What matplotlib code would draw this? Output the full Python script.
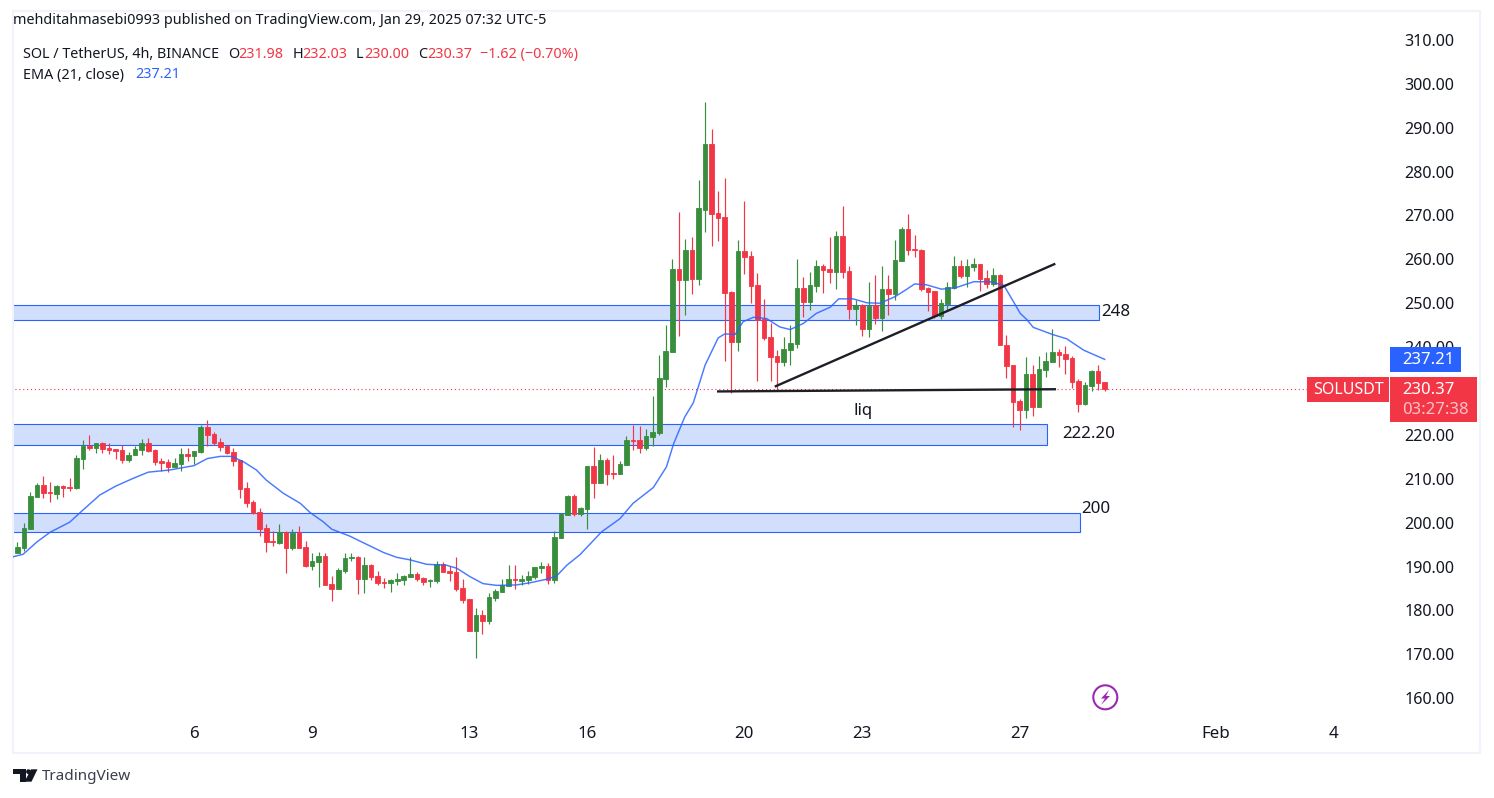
import matplotlib
matplotlib.use('Agg')
import numpy as np
import matplotlib.pyplot as plt
from matplotlib.patches import Rectangle, Circle, Polygon
from matplotlib.transforms import Affine2D

# OHLC of the 4h candles
opens = [193.1, 194.3, 198.6, 205.9, 208.6, 207.0, 206.6, 208.3, 208.1, 207.9, 214.6, 217.4, 217.1, 218.1, 217.0, 216.8, 216.5, 214.3, 215.5, 216.6,
         218.1, 216.5, 214.0, 213.8, 212.7, 213.4, 215.6, 215.2, 216.1, 221.8, 220.2, 218.4, 217.4, 216.1, 214.3, 207.9, 204.7, 202.4, 198.8, 195.8,
         195.4, 197.9, 194.3, 197.8, 194.4, 190.1, 191.0, 192.4, 186.0, 184.8, 189.0, 191.9, 192.1, 187.1, 190.3, 187.8, 186.4, 186.2, 186.7, 186.9,
         187.6, 188.3, 187.4, 186.8, 186.7, 190.5, 188.9, 188.7, 185.1, 182.6, 175.3, 178.9, 177.6, 182.8, 184.2, 185.5, 187.1, 186.7, 186.9, 187.6,
         189.6, 190.1, 186.9, 196.5, 201.7, 206.0, 201.9, 203.1, 212.9, 209.0, 214.2, 211.3, 211.0, 213.1, 218.8, 218.8, 217.0, 219.5, 220.4, 232.7,
         238.9, 257.8, 255.3, 262.1, 255.5, 271.2, 286.3, 270.6, 269.6, 252.5, 241.2, 261.9, 260.8, 254.1, 246.4, 242.3, 237.9, 236.6, 239.3, 240.7,
         253.5, 250.3, 253.9, 258.5, 257.8, 257.1, 265.3, 257.4, 248.7, 249.6, 244.1, 249.6, 246.6, 253.2, 252.1, 259.6, 266.9, 262.4, 262.1, 253.5,
         252.8, 247.1, 249.8, 253.5, 258.5, 256.2, 258.2, 258.9, 255.7, 254.4, 256.4, 240.5, 235.9, 227.7, 225.7, 233.9, 226.3, 234.8, 236.6, 238.9,
         238.4, 237.5, 232.3, 227.0, 231.1, 234.5, 231.98]
highs = [195.6, 199.9, 206.9, 209.0, 210.6, 209.2, 208.6, 208.6, 210.1, 215.4, 218.8, 220.0, 218.1, 218.4, 218.1, 216.8, 217.7, 216.1, 217.5, 219.0,
         219.3, 216.8, 214.7, 214.5, 214.7, 217.0, 217.0, 216.3, 222.2, 223.4, 220.6, 219.3, 217.7, 217.0, 214.3, 209.2, 205.1, 203.3, 199.7, 198.1,
         199.7, 198.1, 198.5, 199.2, 195.8, 193.1, 193.3, 193.1, 187.8, 189.6, 193.1, 193.1, 192.4, 192.1, 190.5, 189.0, 187.4, 187.1, 188.5, 188.0,
         192.1, 188.7, 187.6, 187.1, 191.2, 191.0, 190.1, 192.1, 187.1, 182.6, 180.5, 180.1, 183.9, 184.8, 187.1, 190.3, 190.3, 188.0, 189.0, 189.9,
         191.0, 190.8, 198.1, 202.2, 206.3, 206.5, 203.5, 212.9, 217.2, 215.6, 214.7, 215.4, 214.0, 219.7, 222.2, 222.0, 221.3, 228.8, 238.2, 245.0,
         260.1, 270.8, 264.6, 265.1, 278.1, 295.9, 289.7, 275.6, 278.5, 252.8, 264.4, 273.3, 261.9, 256.9, 251.0, 245.4, 239.3, 242.3, 245.0, 260.1,
         256.0, 257.1, 259.9, 259.0, 265.1, 266.5, 272.2, 258.5, 250.7, 249.8, 254.8, 256.4, 258.5, 256.4, 264.4, 267.4, 270.3, 265.5, 262.4, 253.7,
         252.8, 251.0, 254.8, 260.8, 259.9, 260.1, 260.3, 258.9, 257.6, 258.0, 256.7, 242.8, 235.9, 228.2, 237.7, 235.9, 238.0, 238.9, 244.1, 239.6,
         240.3, 238.0, 232.7, 232.0, 234.8, 235.9, 232.03]
lows = [193.1, 193.6, 198.6, 205.9, 205.7, 204.8, 205.4, 205.9, 207.3, 207.7, 212.3, 216.5, 215.9, 215.9, 215.7, 214.5, 213.6, 213.9, 215.5, 215.5,
        216.2, 213.2, 211.8, 211.6, 212.7, 211.8, 214.0, 213.4, 215.9, 217.5, 217.8, 216.4, 215.6, 213.0, 205.7, 203.6, 201.9, 197.0, 193.4, 194.7,
        195.2, 188.6, 193.8, 194.2, 189.9, 189.2, 185.3, 185.8, 182.1, 184.8, 188.5, 191.2, 183.7, 183.9, 186.9, 185.8, 185.1, 184.2, 185.8, 185.8,
        187.6, 186.7, 185.8, 185.3, 186.2, 188.7, 186.7, 184.4, 181.7, 175.3, 169.1, 174.6, 176.9, 182.1, 184.2, 185.5, 184.8, 185.8, 186.0, 187.1,
        188.5, 186.0, 186.2, 196.5, 201.7, 201.5, 201.5, 198.5, 205.6, 209.0, 208.5, 209.9, 211.0, 213.1, 216.5, 215.8, 216.5, 217.4, 219.9, 230.9,
        238.9, 242.5, 247.3, 252.1, 254.2, 266.2, 263.0, 264.2, 236.8, 229.5, 239.1, 256.6, 250.0, 232.3, 241.6, 232.3, 230.2, 235.7, 235.9, 239.8,
        246.9, 248.5, 252.5, 252.3, 254.6, 253.2, 255.7, 246.4, 245.0, 242.5, 242.3, 245.2, 243.7, 247.3, 250.7, 259.6, 261.0, 260.5, 252.8, 248.2,
        246.6, 246.4, 248.5, 253.2, 255.7, 253.7, 257.3, 252.8, 253.5, 253.9, 240.5, 233.0, 221.8, 221.1, 223.8, 224.3, 226.3, 233.2, 236.6, 235.5,
        233.9, 230.7, 225.2, 226.8, 230.0, 230.2, 230.00]
closes = [194.4, 198.8, 206.0, 208.6, 206.8, 206.8, 208.3, 208.0, 208.0, 214.7, 217.4, 217.1, 218.1, 216.8, 216.6, 216.4, 214.3, 215.5, 216.8, 218.1,
          216.4, 213.9, 213.6, 212.7, 213.6, 215.6, 215.2, 216.3, 221.8, 220.0, 218.2, 217.3, 215.9, 214.1, 207.7, 204.5, 202.3, 198.6, 195.6, 195.6,
          197.9, 194.3, 197.6, 194.3, 190.1, 191.2, 192.4, 185.8, 184.8, 189.2, 191.9, 192.1, 187.1, 190.3, 187.6, 186.2, 186.2, 186.9, 187.1, 187.8,
          188.3, 187.1, 186.4, 187.0, 190.5, 188.7, 188.6, 184.8, 182.3, 175.3, 178.9, 177.6, 183.0, 184.4, 185.7, 187.1, 187.0, 187.1, 187.8, 189.9,
          190.1, 186.9, 196.7, 201.9, 206.0, 201.9, 203.3, 212.9, 209.0, 214.2, 211.0, 211.0, 213.3, 218.8, 218.6, 217.0, 219.7, 220.6, 232.9, 239.1,
          257.8, 255.3, 262.1, 255.5, 271.7, 286.3, 270.3, 269.4, 252.3, 241.2, 261.9, 260.5, 253.9, 246.2, 242.1, 237.7, 236.6, 239.5, 240.9, 253.5,
          250.3, 254.2, 258.5, 257.6, 257.1, 265.3, 257.1, 248.7, 249.6, 244.1, 249.4, 246.6, 253.2, 252.1, 259.8, 266.9, 262.1, 262.1, 253.2, 252.5,
          247.1, 250.0, 253.7, 258.5, 256.2, 258.5, 258.9, 255.5, 254.4, 256.4, 240.5, 235.7, 227.5, 225.7, 233.9, 226.3, 235.0, 236.8, 238.9, 238.2,
          237.3, 232.0, 227.0, 231.4, 234.5, 231.8, 230.37]

# EMA line read at candle positions
ema_x = [-0.7, 0.9, 3, 5, 8, 9.6, 12.6, 15, 17.7, 20, 23.3, 27, 29, 31, 32.7, 34.5, 36.5, 38, 40.6, 43.2,
         44.7, 46.7, 48, 50.8, 52.3, 55.9, 57.9, 60, 62.5, 65.5, 67.1, 69.1, 71.1, 73.2, 76.2, 78.3, 80.8, 82.3, 83.9, 85.9,
         89.2, 92, 94, 97.1, 99.1, 100.2, 101.9, 103.2, 105, 107, 108, 109.6, 110.8, 112.4, 114.4, 116.4, 118,
         120, 122, 124.1, 125.4, 127.6, 129.7, 131.7, 134, 135.8, 137, 138.8, 141.1, 143.4, 146, 148.5, 150.6,
         152.1, 153.1, 154.1, 155.1, 158.2, 160.2, 162.8, 166]
ema_y = [192.2, 192.8, 195.6, 197.8, 200.1, 202.3, 206.3, 208.3, 210.1, 211.5, 212.0, 213.0, 214.6, 215.1, 215.1, 213.9, 212.0, 209.7, 206.7, 204.4,
         202.3, 200.2, 198.5, 196.9, 195.8, 193.2, 192.1, 191.5, 190.5, 190.3, 189.6, 187.7, 186.1, 185.7, 185.8, 186.3, 187.1, 187.8, 190.3, 192.7,
         197.9, 200.9, 204.4, 208.0, 212.7, 218.0, 224.1, 227.3, 235.9, 242.1, 243.0, 242.9, 245.8, 246.8, 246.5, 244.6, 244.0,
         245.4, 247.7, 249.1, 251.0, 251.0, 250.1, 250.0, 251.5, 253.2, 254.4, 254.2, 253.2, 253.6, 254.9, 254.9, 254.1,
         250.3, 247.7, 246.3, 244.5, 242.8, 241.9, 239.3, 237.21]

price_ticks = [160, 170, 180, 190, 200, 210, 220, 230, 240, 250, 260, 270, 280, 290, 300, 310]
date_pos = [27, 45, 69, 87, 111, 129, 153, 183, 201]
date_labels = ['6', '9', '13', '16', '20', '23', '27', 'Feb', '4']

# supply/demand zones: low, high, last candle
zone_low = [246.1, 217.8, 197.8]
zone_high = [249.7, 222.4, 202.3]
zone_end = [165.1, 157.2, 162.2]

GREEN = '#388E3C'
RED = '#F23645'
BLUE = '#2962FF'
DARK = '#131722'
FRAME = '#F0F3FA'

plt.rcParams['font.family'] = ['Noto Sans', 'DejaVu Sans']

fig = plt.figure(figsize=(14.94, 7.98), dpi=100, facecolor='white')
# pixel coordinates, origin top left, for the decorations around the chart
px = Affine2D().scale(1, -1).translate(0, 798)

ax = fig.add_axes([13 / 1494, 1 - 753 / 798, (1480 - 13) / 1494, (753 - 11) / 798])
ax.set_xlim(-0.656, 223.3)
ax.set_ylim(147.5, 316.6)

x = np.arange(len(opens))
o = np.array(opens)
c = np.array(closes)
colors = [GREEN if b >= a else RED for a, b in zip(opens, closes)]

# zones
for low, high, end in zip(zone_low, zone_high, zone_end):
    ax.add_patch(Rectangle((-5, low), end + 5, high - low, facecolor='#D1DFFD', edgecolor=BLUE, lw=0.8, zorder=1))

# last price line
ax.hlines(closes[-1], -1, 198, color=RED, lw=0.8, linestyles=(0, (1, 2.5)), zorder=1.5)

# candles
ax.vlines(x, lows, highs, color=colors, lw=0.85, zorder=2)
ax.bar(x, np.abs(c - o), bottom=np.minimum(o, c), width=0.7, color=colors, edgecolor=colors, lw=0.6, zorder=3)

# EMA
ax.plot(ema_x, ema_y, color=BLUE, lw=1.05, alpha=0.85, zorder=4)

# drawn trend lines
ax.plot([115.8, 158.3], [231.1, 258.9], color='#1c1f26', lw=1.7, zorder=5)
ax.plot([107, 158.4], [229.9, 230.4], color='#1c1f26', lw=1.7, zorder=5)

# labels on the chart
ax.text(165.5, 247.9, '248', fontsize=12.2, color=DARK, va='center', zorder=6)
ax.text(159.5, 220.3, '222.20', fontsize=12.2, color=DARK, va='center', zorder=6)
ax.text(162.5, 203.0, '200', fontsize=12.2, color=DARK, va='center', zorder=6)
ax.text(129.1, 225.4, 'liq', fontsize=12.2, color=DARK, va='center', ha='center', zorder=6)

# axes, ticks sit inside the frame like in the TradingView export
ax.yaxis.tick_right()
ax.set_yticks(price_ticks)
ax.set_yticklabels([f'{p:.2f}' for p in price_ticks], fontsize=11.6, color=DARK)
ax.set_xticks(date_pos)
ax.set_xticklabels(date_labels, fontsize=12.2, color=DARK)
ax.tick_params(axis='y', length=0, pad=-54.5)
ax.tick_params(axis='x', length=0, pad=-19.5)
for side in ax.spines.values():
    side.set_color(FRAME)
    side.set_linewidth(1.5)

# header and legend
fig.text(13, 20.5, 'mehditahmasebi0993 published on TradingView.com, Jan 29, 2025 07:32 UTC-5',
         transform=px, fontsize=10.35, color=DARK, va='center')
legend_x = [23, 228, 238, 293, 302, 356, 364, 418, 427, 480]
legend_txt = ['SOL / TetherUS, 4h, BINANCE', 'O', '231.98', 'H', '232.03', 'L', '230.00', 'C', '230.37', '\u22121.62 (\u22120.70%)']
legend_col = [DARK, DARK, RED, DARK, RED, DARK, RED, DARK, RED, RED]
for lx, txt, col in zip(legend_x, legend_txt, legend_col):
    fig.text(lx, 54.5, txt, transform=px, fontsize=10.35, color=col, va='center')
fig.text(23, 75, 'EMA (21, close)', transform=px, fontsize=10.35, color=DARK, va='center')
fig.text(135, 75, '237.21', transform=px, fontsize=10.35, color=BLUE, va='center')

# price tags on the right
fig.add_artist(Rectangle((1390, 347), 71, 25, facecolor=BLUE, edgecolor='none', transform=px))
fig.text(1402, 360, '237.21', transform=px, fontsize=12, color='white', va='center')
fig.add_artist(Rectangle((1390, 377), 87, 45, facecolor=RED, edgecolor='none', transform=px))
fig.text(1402, 390, '230.37', transform=px, fontsize=12, color='white', va='center')
fig.text(1402, 410, '03:27:38', transform=px, fontsize=12, color='#FBC4C9', va='center')
fig.add_artist(Rectangle((1307, 377), 82, 25, facecolor=RED, edgecolor='none', transform=px))
fig.text(1313, 390, 'SOLUSDT', transform=px, fontsize=11.5, color='white', va='center')

# flash icon
fig.add_artist(Circle((1105.3, 697.3), 12, facecolor='white', edgecolor='#9C27B0', lw=1.5, transform=px))
fig.add_artist(Polygon([(1109, 690), (1101, 698.5), (1105, 698.5), (1101, 705), (1110, 696), (1106, 696)],
                       closed=True, facecolor='#9C27B0', edgecolor='none', transform=px))

# TradingView logo
fig.add_artist(Polygon([(13.3, 769.3), (25.5, 769.3), (25.5, 781.7), (19.5, 781.7), (19.5, 774), (13.3, 774)],
                       closed=True, facecolor=DARK, edgecolor='none', transform=px))
fig.add_artist(Circle((28.5, 771.7), 2.4, facecolor=DARK, edgecolor='none', transform=px))
fig.add_artist(Polygon([(31, 769.3), (37.5, 769.3), (31.5, 781.7), (24.5, 781.7)],
                       closed=True, facecolor=DARK, edgecolor='none', transform=px))
fig.text(42, 777, 'TradingView', transform=px, fontsize=11, color='#3b3f4a', va='center')

plt.savefig('out.png', dpi=100)
